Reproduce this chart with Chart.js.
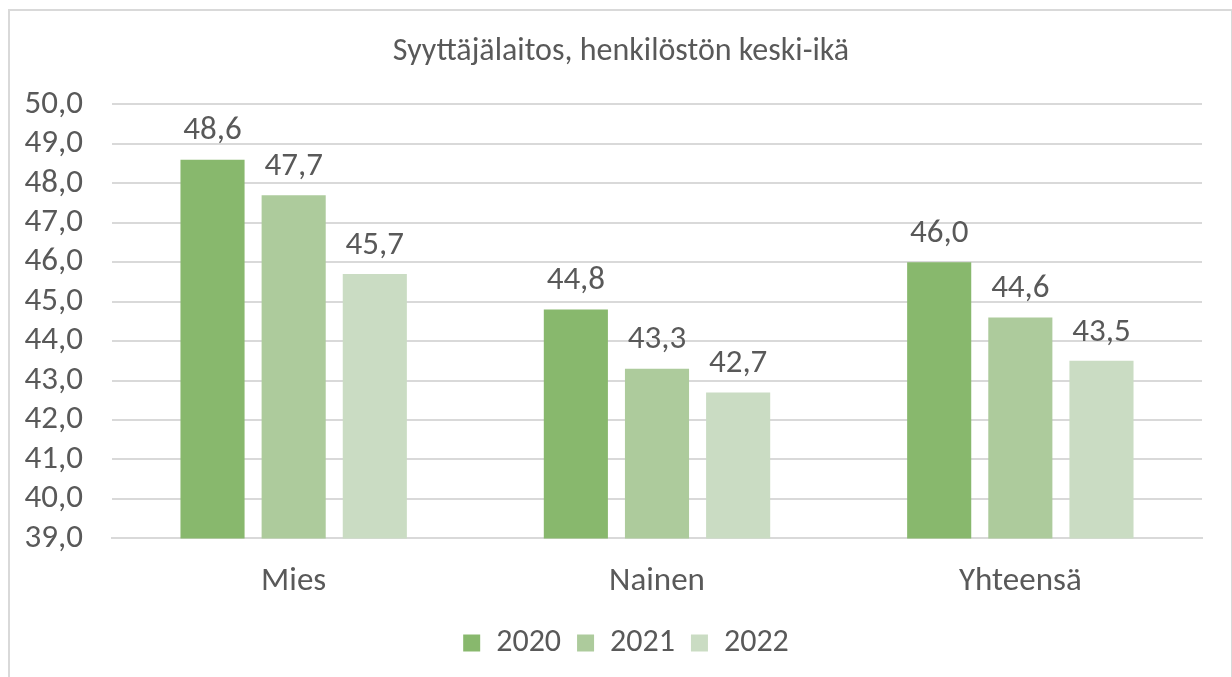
<!DOCTYPE html>
<html>
<head>
<meta charset="utf-8">
<script src="https://cdn.jsdelivr.net/npm/chart.js@4"></script>
<style>
    body { margin: 0; background: #fff; }
    #frame { position: absolute; left: 8px; top: 9px; width: 1221px; height: 700px; border: 2px solid #d9d9d9; border-bottom: none; }
    #wrap { position: absolute; left: 0; top: 0; width: 1232px; height: 677px; }
</style>
</head>
<body>
<div id="frame"></div>
<div id="wrap"><canvas id="chart" width="1232" height="677"></canvas></div>
<script>
// DATA
const categories = ['Mies', 'Nainen', 'Yhteensä'];
const years = ['2020', '2021', '2022'];
const values2020 = [48.6, 44.8, 46.0];
const values2021 = [47.7, 43.3, 44.6];
const values2022 = [45.7, 42.7, 43.5];
const yTicks = [39, 40, 41, 42, 43, 44, 45, 46, 47, 48, 49, 50];
const colors = ['#88b86d', '#adcb9c', '#cadcc3'];

const fontFamily = "Carlito, Calibri, 'Open Sans', sans-serif";
const textColor = '#595959';
const fontSize = 33;

function fi(v)
{
    return v.toFixed(1).replace('.', ',');
}

// value labels above the bars
const barLabels = {
    id: 'barLabels',
    afterDatasetsDraw(chart)
    {
        let ctx = chart.ctx;
        ctx.save();
        ctx.font = fontSize + 'px ' + fontFamily;
        ctx.fillStyle = textColor;
        ctx.textAlign = 'center';
        ctx.textBaseline = 'bottom';
        chart.data.datasets.forEach(function (ds, i)
        {
            chart.getDatasetMeta(i).data.forEach(function (bar, j)
            {
                ctx.fillText(fi(ds.data[j]), bar.x, bar.y - 12);
            });
        });
        ctx.restore();
    }
};

// title and legend are centred on the whole frame, not only on the plot
const shiftBoxes = {
    id: 'shiftBoxes',
    afterLayout(chart)
    {
        chart.titleBlock.left += 40;
        chart.legend.left += 50;
    }
};

let ctx = document.getElementById('chart').getContext('2d');
new Chart(ctx,
{
    type: 'bar',
    data: {
        labels: categories,
        datasets: [
            { label: years[0], data: values2020, backgroundColor: colors[0] },
            { label: years[1], data: values2021, backgroundColor: colors[1] },
            { label: years[2], data: values2022, backgroundColor: colors[2] }
        ]
    },
    options:
    {
        responsive: false,
        animation: false,
        devicePixelRatio: 1,
        categoryPercentage: 0.67,
        barPercentage: 0.79,
        layout: { padding: { left: 0, right: 30, top: 33, bottom: 8 } },
        plugins:
        {
            title:
            {
                display: true,
                text: 'Syyttäjälaitos, henkilöstön keski-ikä',
                color: textColor,
                font: { family: fontFamily, size: 32, weight: 'normal' },
                padding: { top: 0, bottom: 33 }
            },
            legend:
            {
                position: 'bottom',
                labels:
                {
                    color: textColor,
                    font: { family: fontFamily, size: 32 },
                    boxWidth: 17,
                    boxHeight: 17,
                    padding: 16
                }
            },
            tooltip: { enabled: false }
        },
        scales:
        {
            x:
            {
                afterFit: function (axis)
                {
                    axis.height -= 15;
                },
                grid: { display: false, drawTicks: false },
                border: { color: '#d9d9d9', width: 2 },
                ticks: { color: textColor, font: { family: fontFamily, size: fontSize }, padding: 24 }
            },
            y:
            {
                min: 39,
                max: 50,
                afterBuildTicks: function (axis)
                {
                    axis.ticks = yTicks.map(function (v) { return { value: v }; });
                },
                afterFit: function (axis)
                {
                    axis.width = 112;
                },
                grid: { color: '#d9d9d9', lineWidth: 2, drawTicks: false },
                border: { display: false },
                ticks:
                {
                    autoSkip: false,
                    color: textColor,
                    font: { family: fontFamily, size: fontSize },
                    padding: 29,
                    callback: function (v) { return fi(v); }
                }
            }
        }
    },
    plugins: [barLabels, shiftBoxes]
});
</script>
</body>
</html>
